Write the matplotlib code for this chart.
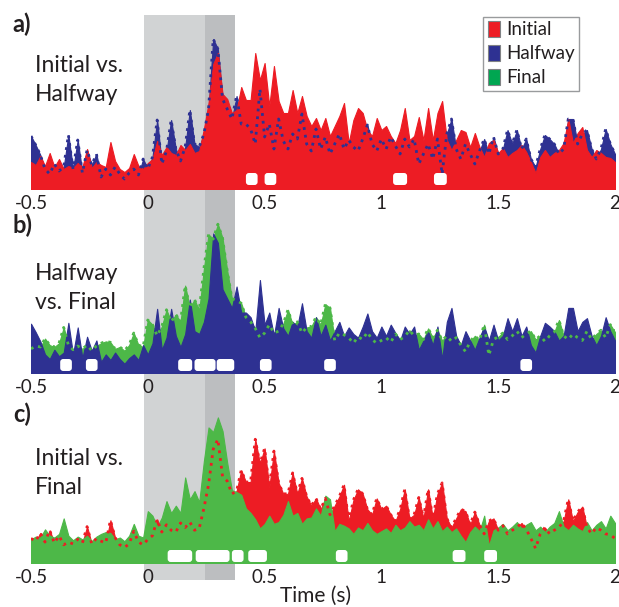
import numpy as np
import matplotlib
matplotlib.use('Agg')
import matplotlib.pyplot as plt
from matplotlib.patches import FancyBboxPatch, Patch

plt.rcParams['font.family'] = ['Lato', 'DejaVu Sans']

# colours
RED = '#ED1C24'
BLUE = '#2E3192'
GREEN = '#4DB848'
GREEN_LEG = '#00A651'
GRAY_LIGHT = '#D1D3D4'
GRAY_DARK = '#BCBEC0'
TEXT = '#231F20'

# 20 ms bins from -0.5 s to 2.0 s
time_s = np.linspace(-0.5, 2.0, 126)

initial = [
    2.7, 2.4, 3.3, 2.3, 3.6, 2.2, 3.0, 2.0, 2.3, 2.1, 2.6, 2.2, 4.0, 2.1, 2.7, 2.4, 2.2, 4.7, 2.8, 2.0,
    1.7, 2.1, 3.5, 2.3, 2.0,
    2.6, 3.0, 4.8, 3.4, 4.2, 3.6, 3.4, 4.4, 3.9, 4.5, 3.6, 3.8, 6.0, 8.6, 12.5, 13.6, 9.5, 9.0, 7.6, 7.9,
    10.2, 8.9, 8.9, 13.6, 10.9, 12.6, 8.3, 12.3, 8.8, 7.6, 7.6, 9.9, 7.6, 9.3, 7.3, 6.3, 7.1, 5.9, 7.1, 5.3,
    6.3, 7.3, 8.6, 4.6, 6.9, 8.1, 7.6, 5.9, 5.3, 7.1, 5.9, 6.3, 5.3, 4.6, 5.9, 8.1, 4.9, 5.3,
    7.2, 4.9, 8.1, 4.9, 7.6, 8.8, 4.9, 3.9, 4.9, 5.9, 5.7, 4.2, 5.6, 4.2, 3.2, 4.6, 4.9, 3.6, 4.1, 3.2,
    3.6, 3.9, 4.4, 3.7, 2.7, 1.6, 3.2, 3.9, 3.2, 3.6, 3.9, 4.6, 7.0, 4.6, 5.6, 6.2, 3.9, 3.2, 3.9, 3.6,
    3.2, 3.1, 2.7,
]

halfway = [
    5.3, 4.4, 3.4, 2.0, 1.5, 2.5, 1.8, 2.2, 5.4, 2.0, 4.9, 1.6, 3.9, 2.4, 3.5, 1.2, 2.0, 1.4, 2.2, 1.5,
    1.0, 1.6, 2.0, 1.4, 3.0,
    2.0, 3.2, 6.9, 2.5, 3.8, 6.9, 4.0, 2.8, 4.2, 7.9, 4.5, 4.2, 5.5, 8.0, 15.0, 14.0, 9.0, 8.0, 7.0, 9.3,
    6.5, 6.5, 6.0, 4.5, 10.0, 5.2, 6.5, 4.0, 7.0, 4.8, 4.0, 5.5, 5.0, 7.5, 4.5, 3.8, 6.0, 4.0, 5.2, 3.5,
    4.5, 5.5, 4.0, 4.9, 4.2, 3.8, 5.0, 6.4, 4.5, 3.8, 5.0, 4.0, 5.2, 4.3, 3.5, 5.0, 4.2, 5.0,
    2.5, 3.5, 4.5, 3.0, 5.0, 1.5, 5.5, 7.0, 4.0, 3.0, 4.5, 3.5, 2.5, 3.8, 5.0, 3.5, 5.2, 3.5, 4.0, 5.9,
    4.5, 5.9, 4.0, 5.0, 3.0, 2.2, 4.0, 5.4, 5.0, 4.5, 3.5, 4.0, 7.0, 7.0, 4.5, 5.5, 5.9, 4.0, 3.0, 4.0,
    6.0, 4.5, 3.5,
]

final = [
    2.6, 2.9, 2.8, 3.7, 3.0, 2.8, 3.2, 4.9, 3.0, 2.5, 2.9, 2.6, 3.0, 2.4, 2.9, 3.2, 3.4, 3.3, 2.6, 2.8,
    2.4, 3.0, 4.3, 3.0, 2.8,
    5.7, 5.2, 4.0, 5.0, 6.8, 5.5, 6.3, 5.5, 9.4, 7.0, 7.9, 6.7, 11.2, 14.9, 14.4, 16.0, 14.5, 11.0, 8.0, 7.8,
    7.5, 6.0, 5.5, 4.8, 3.8, 4.3, 5.2, 4.3, 4.5, 5.3, 6.8, 5.2, 5.5, 4.3, 4.9, 5.0, 6.0, 5.2, 7.4, 7.0,
    3.5, 4.3, 4.1, 3.8, 3.2, 3.9, 3.6, 4.4, 3.6, 3.2, 3.5, 3.8, 3.3, 4.2, 3.6, 3.9, 4.6, 4.0,
    4.2, 3.6, 4.8, 3.8, 4.6, 3.5, 4.0, 3.4, 3.8, 3.0, 2.3, 3.4, 4.0, 3.5, 5.2, 1.9, 3.6, 3.9, 4.3, 3.6,
    4.0, 4.5, 3.8, 4.2, 4.5, 3.6, 4.0, 3.4, 4.0, 4.4, 5.7, 4.0, 3.6, 4.2, 3.8, 3.5, 4.5, 3.6, 4.2, 4.6,
    3.8, 5.2, 4.4,
]

# significant time windows (s)
sig_a = [(0.42, 0.47), (0.50, 0.55), (1.05, 1.11), (1.225, 1.28)]
sig_b = [(-0.375, -0.325), (-0.265, -0.215), (0.13, 0.19), (0.20, 0.29), (0.295, 0.37),
         (0.48, 0.53), (0.755, 0.805), (1.595, 1.645)]
sig_c = [(0.085, 0.19), (0.205, 0.35), (0.36, 0.41), (0.43, 0.51), (0.805, 0.855),
         (1.305, 1.36), (1.44, 1.495)]

tick_vals = [-0.5, 0, 0.5, 1, 1.5, 2]
tick_labels = ['-0.5', '0', '0.5', '1', '1.5', '2']

# layout in pixels
W, H = 619, 607
LEFT, RIGHT = 31, 615
AX_H = 175


def fx(px):
    return px / W


def fy(py):
    return 1 - py / H


fig = plt.figure(figsize=(W / 100, H / 100), dpi=100)

# stimulus shading behind all panels
bg = fig.add_axes([fx(LEFT), fy(580), fx(RIGHT - LEFT), (580 - 15) / H])
bg.set_xlim(-0.5, 2.0)
bg.set_ylim(0, 1)
bg.axvspan(-0.015, 0.243, color=GRAY_LIGHT, lw=0)
bg.axvspan(0.243, 0.372, color=GRAY_DARK, lw=0)
bg.axis('off')

panels = [
    dict(base=189, ppu=10.0, back=halfway, back_c=BLUE, front=initial, front_c=RED,
         sig=sig_a, box=(4, 16), letter='a)', letter_y=24, text='Initial vs.\nHalfway', text_y=80),
    dict(base=373, ppu=9.3, back=final, back_c=GREEN, front=halfway, front_c=BLUE,
         sig=sig_b, box=(2, 14), letter='b)', letter_y=225, text='Halfway\nvs. Final', text_y=288),
    dict(base=563, ppu=9.1, back=initial, back_c=RED, front=final, front_c=GREEN,
         sig=sig_c, box=(1, 13), letter='c)', letter_y=414, text='Initial vs.\nFinal', text_y=473),
]

px_per_s = (RIGHT - LEFT) / 2.5

for p in panels:
    ax = fig.add_axes([fx(LEFT), fy(p['base']), fx(RIGHT - LEFT), AX_H / H])
    ax.set_facecolor('none')
    ax.set_xlim(-0.5, 2.0)
    ax.set_ylim(0, AX_H / p['ppu'])

    ax.fill_between(time_s, p['back'], color=p['back_c'], lw=0.8, zorder=1)
    ax.fill_between(time_s, p['front'], color=p['front_c'], lw=0.8, zorder=2)
    ax.plot(time_s, p['back'], color=p['back_c'], lw=2.0, ls=(0, (1, 1.8)), zorder=3)

    # white significance markers
    aspect = px_per_s / p['ppu']
    r = 3.0 / px_per_s
    y0 = p['box'][0] / p['ppu']
    bh = (p['box'][1] - p['box'][0]) / p['ppu']
    for s0, s1 in p['sig']:
        ax.add_patch(FancyBboxPatch((s0, y0), s1 - s0, bh,
                                    boxstyle=f'round,pad=0,rounding_size={r}',
                                    mutation_aspect=aspect, fc='white', ec='none', zorder=4))

    ax.set_xticks(tick_vals)
    ax.set_xticklabels(tick_labels)
    ax.tick_params(axis='x', length=0, pad=4, labelsize=13.5, labelcolor=TEXT)
    ax.set_yticks([])
    for s in ax.spines.values():
        s.set_visible(False)

    fig.text(fx(22), fy(p['letter_y']), p['letter'], ha='center', va='center',
             fontsize=17, fontweight='bold', color=TEXT)
    fig.text(fx(35), fy(p['text_y']), p['text'], ha='left', va='center',
             fontsize=16.5, linespacing=1.45, color=TEXT)

fig.text(fx(316), fy(596), 'Time (s)', ha='center', va='center', fontsize=15, color=TEXT)

handles = [Patch(fc=RED, ec='#808285', lw=0.8, label='Initial'),
           Patch(fc=BLUE, ec='#808285', lw=0.8, label='Halfway'),
           Patch(fc=GREEN_LEG, ec='#808285', lw=0.8, label='Final')]
leg = fig.legend(handles=handles, loc='upper right', bbox_to_anchor=(fx(579), fy(17)),
                 frameon=True, fancybox=False, edgecolor='#808285', fontsize=13.5,
                 handlelength=0.65, handleheight=0.9, handletextpad=0.35,
                 borderpad=0.22, labelspacing=0.36, borderaxespad=0)
leg.get_frame().set_linewidth(1.0)
for t in leg.get_texts():
    t.set_color(TEXT)

fig.savefig('out.png', dpi=100)
